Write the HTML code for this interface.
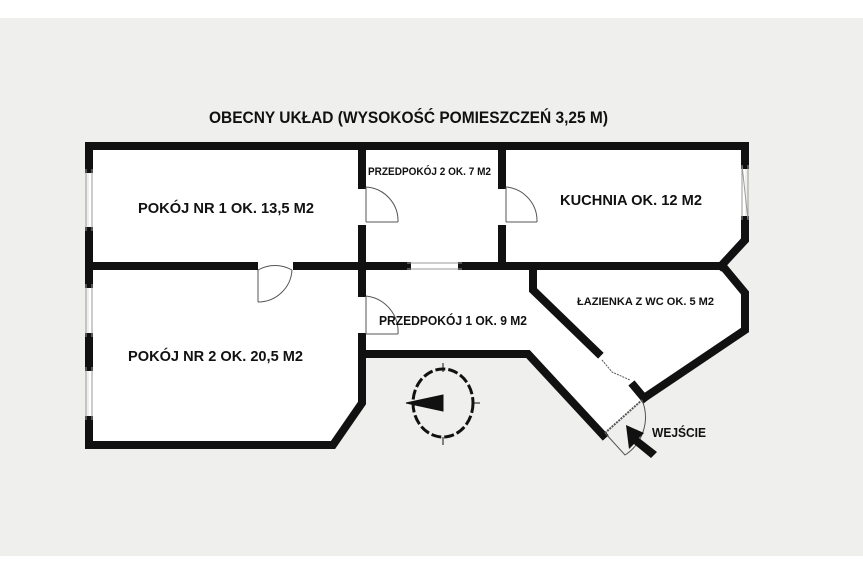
<!DOCTYPE html>
<html><head><meta charset="utf-8"><style>
html,body{margin:0;padding:0;background:#fff;}
svg{display:block;}
text{font-family:"Liberation Sans",sans-serif;font-weight:bold;fill:#111;}
</style></head><body>
<svg width="863" height="575" viewBox="0 0 863 575" xmlns="http://www.w3.org/2000/svg">
<rect x="0" y="0" width="863" height="575" fill="#fff"/>
<rect x="0" y="18" width="863" height="538" fill="#efefed"/>
<polygon points="89,146 745,146 745,240 723,266 745,293 745,330 644,398 603,435 528,354 363,354 363,403 333,445 89,445" fill="#fff"/>
<g stroke="#111" stroke-width="8" fill="none" stroke-linecap="square" stroke-linejoin="miter">
<polyline points="89,169 89,146 745,146 745,165"/>
<line x1="89" y1="231" x2="89" y2="284"/>
<line x1="89" y1="337" x2="89" y2="367"/>
<polyline points="89,420 89,445 333,445 362,403 362,337"/>
<line x1="89" y1="266" x2="254" y2="266"/>
<line x1="297" y1="266" x2="407" y2="266"/>
<line x1="462" y1="266" x2="721" y2="266"/>
<line x1="362" y1="146" x2="362" y2="185"/>
<line x1="362" y1="229" x2="362" y2="293"/>
<line x1="502" y1="146" x2="502" y2="185"/>
<line x1="502" y1="229" x2="502" y2="266"/>
<polyline points="745,220 745,240 721,266"/>
<polyline points="726,270 745,293 745,330 644,398"/>
<line x1="644" y1="398" x2="634" y2="386"/>
<polyline points="533,270 533,290 598,353"/>
<polyline points="366,354 528,354 603,435"/>
</g>
<g stroke="#999" stroke-width="1" fill="none">
<line x1="86" y1="169" x2="86" y2="231"/><line x1="92" y1="169" x2="92" y2="231"/>
<line x1="86" y1="284" x2="86" y2="337"/><line x1="92" y1="284" x2="92" y2="337"/>
<line x1="86" y1="367" x2="86" y2="420"/><line x1="92" y1="367" x2="92" y2="420"/>
<line x1="742" y1="165" x2="742" y2="220"/><line x1="748" y1="165" x2="748" y2="220"/>
<line x1="742" y1="165" x2="748" y2="220"/>
<line x1="407" y1="263" x2="462" y2="263"/><line x1="407" y1="269" x2="462" y2="269"/>
</g>
<g stroke="#555" stroke-width="1" fill="none">
<line x1="258" y1="270" x2="258" y2="302"/><path d="M258,270 A34,34 0 0 1 292,270 M258,302 A34,34 0 0 0 292,270" />
<line x1="366" y1="187" x2="366" y2="222"/><line x1="366" y1="222" x2="398" y2="222"/><path d="M366,187 A34,34 0 0 1 398,222"/>
<line x1="506" y1="187" x2="506" y2="222"/><line x1="506" y1="222" x2="537" y2="222"/><path d="M506,187 A34,34 0 0 1 537,222"/>
<line x1="366" y1="296" x2="366" y2="334"/><line x1="366" y1="334" x2="398" y2="334"/><path d="M366,296 A36,36 0 0 1 398,334"/>
<path d="M602,360 L612,372 L630,380" stroke-dasharray="2,1"/>
<line x1="605" y1="433" x2="642" y2="400" stroke-dasharray="2,1" stroke-width="2"/>
<path d="M605,433 L625,455 A45,45 0 0 0 642,400"/>
</g>
<g stroke="#111" fill="none">
<ellipse cx="443" cy="403" rx="30" ry="34" stroke-width="3" stroke-dasharray="10,3"/>
<line x1="443" y1="363" x2="443" y2="372" stroke-width="1"/>
<line x1="443" y1="437" x2="443" y2="445" stroke-width="1"/>
<line x1="474" y1="403" x2="480" y2="403" stroke-width="1"/>
<polygon points="406,403 443,395 443,411" fill="#111"/>
</g>
<polygon points="626,425 644,433 639,438 657,452 651,458 634,444 629,449" fill="#111"/>
<text x="209" y="123" font-size="17" textLength="399" lengthAdjust="spacingAndGlyphs">OBECNY UKŁAD (WYSOKOŚĆ POMIESZCZEŃ 3,25 M)</text>
<text x="138" y="213" font-size="15" textLength="176" lengthAdjust="spacingAndGlyphs">POKÓJ NR 1 OK. 13,5 M2</text>
<text x="368" y="175" font-size="11" textLength="123" lengthAdjust="spacingAndGlyphs">PRZEDPOKÓJ 2 OK. 7 M2</text>
<text x="560" y="205" font-size="15" textLength="142" lengthAdjust="spacingAndGlyphs">KUCHNIA OK. 12 M2</text>
<text x="577" y="305" font-size="11" textLength="137" lengthAdjust="spacingAndGlyphs">ŁAZIENKA Z WC OK. 5 M2</text>
<text x="379" y="325" font-size="13" textLength="148" lengthAdjust="spacingAndGlyphs">PRZEDPOKÓJ 1 OK. 9 M2</text>
<text x="128" y="361" font-size="15" textLength="175" lengthAdjust="spacingAndGlyphs">POKÓJ NR 2 OK. 20,5 M2</text>
<text x="652" y="437" font-size="13" textLength="54" lengthAdjust="spacingAndGlyphs">WEJŚCIE</text>
</svg>
</body></html>
